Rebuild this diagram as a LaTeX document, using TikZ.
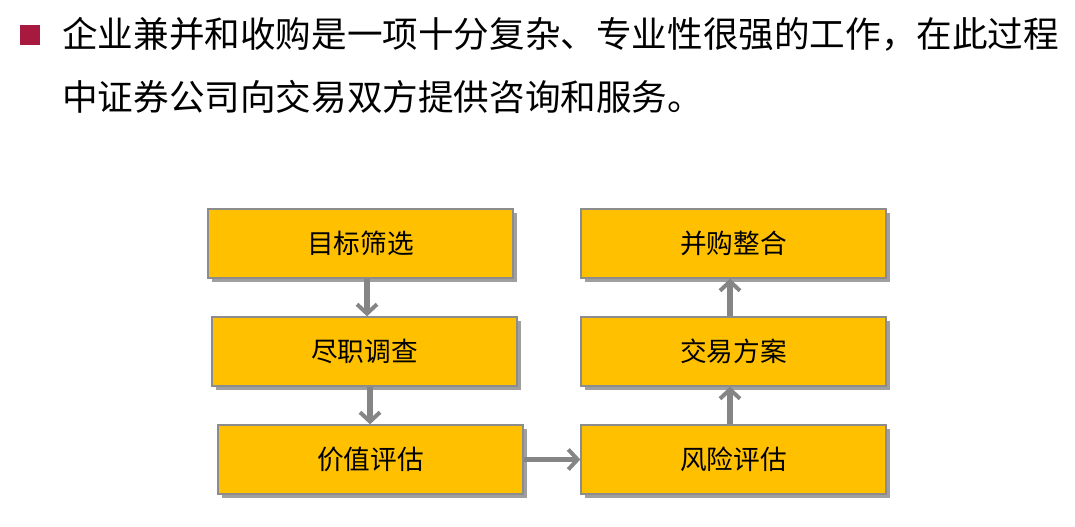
\documentclass[tikz,border=0pt]{standalone}
\usepackage{fontspec}
\newfontfamily\cjk{Noto Sans CJK SC}
\usetikzlibrary{arrows.meta,shadows}
\definecolor{boxfill}{HTML}{FFC000}
\definecolor{boxline}{HTML}{8C8C8C}
\definecolor{arrgray}{HTML}{858585}
\definecolor{bulletred}{HTML}{A8193F}
\tikzset{
  stepbox/.style={draw=boxline, line width=1pt, fill=boxfill, minimum width=305*0.75pt, minimum height=69*0.75pt, inner sep=0pt, font=\cjk\fontsize{20}{24}\selectfont,
    drop shadow={shadow xshift=3pt, shadow yshift=-3pt, fill=gray!75, opacity=1}},
  arr/.style={draw=arrgray, line width=4pt, -{Straight Barb[length=7pt,width=15pt,line width=3pt]}},
  titletext/.style={anchor=base west, inner sep=0pt, font=\cjk\fontsize{26.7}{32}\selectfont}
}
\begin{document}
\begin{tikzpicture}[x=0.75pt,y=-0.75pt]
\useasboundingbox (0,0) rectangle (1075,527);
\fill[bulletred] (20,25) rectangle (40,45);
\node[titletext] (t1) at (62,48) {企业兼并和收购是一项十分复杂、专业性很强的工作，在此过程};
\node[titletext] (t2) at (62,111) {中证券公司向交易双方提供咨询和服务。};
\node[stepbox] (b1) at (360.5,243.5) {目标筛选};
\node[stepbox] (b2) at (364.5,351.5) {尽职调查};
\node[stepbox] (b3) at (370.5,459.5) {价值评估};
\node[stepbox] (b4) at (733.5,243.5) {并购整合};
\node[stepbox] (b5) at (733.5,351.5) {交易方案};
\node[stepbox] (b6) at (733.5,459.5) {风险评估};
\draw[arr] (b1.south -| 367,0) -- (b2.north -| 367,0);
\draw[arr] (b2.south -| 370,0) -- (b3.north -| 370,0);
\draw[arr] (b3.east) -- (b6.west);
\draw[arr] (b6.north -| 730,0) -- (b5.south -| 730,0);
\draw[arr] (b5.north -| 730,0) -- (b4.south -| 730,0);
\end{tikzpicture}
\end{document}
